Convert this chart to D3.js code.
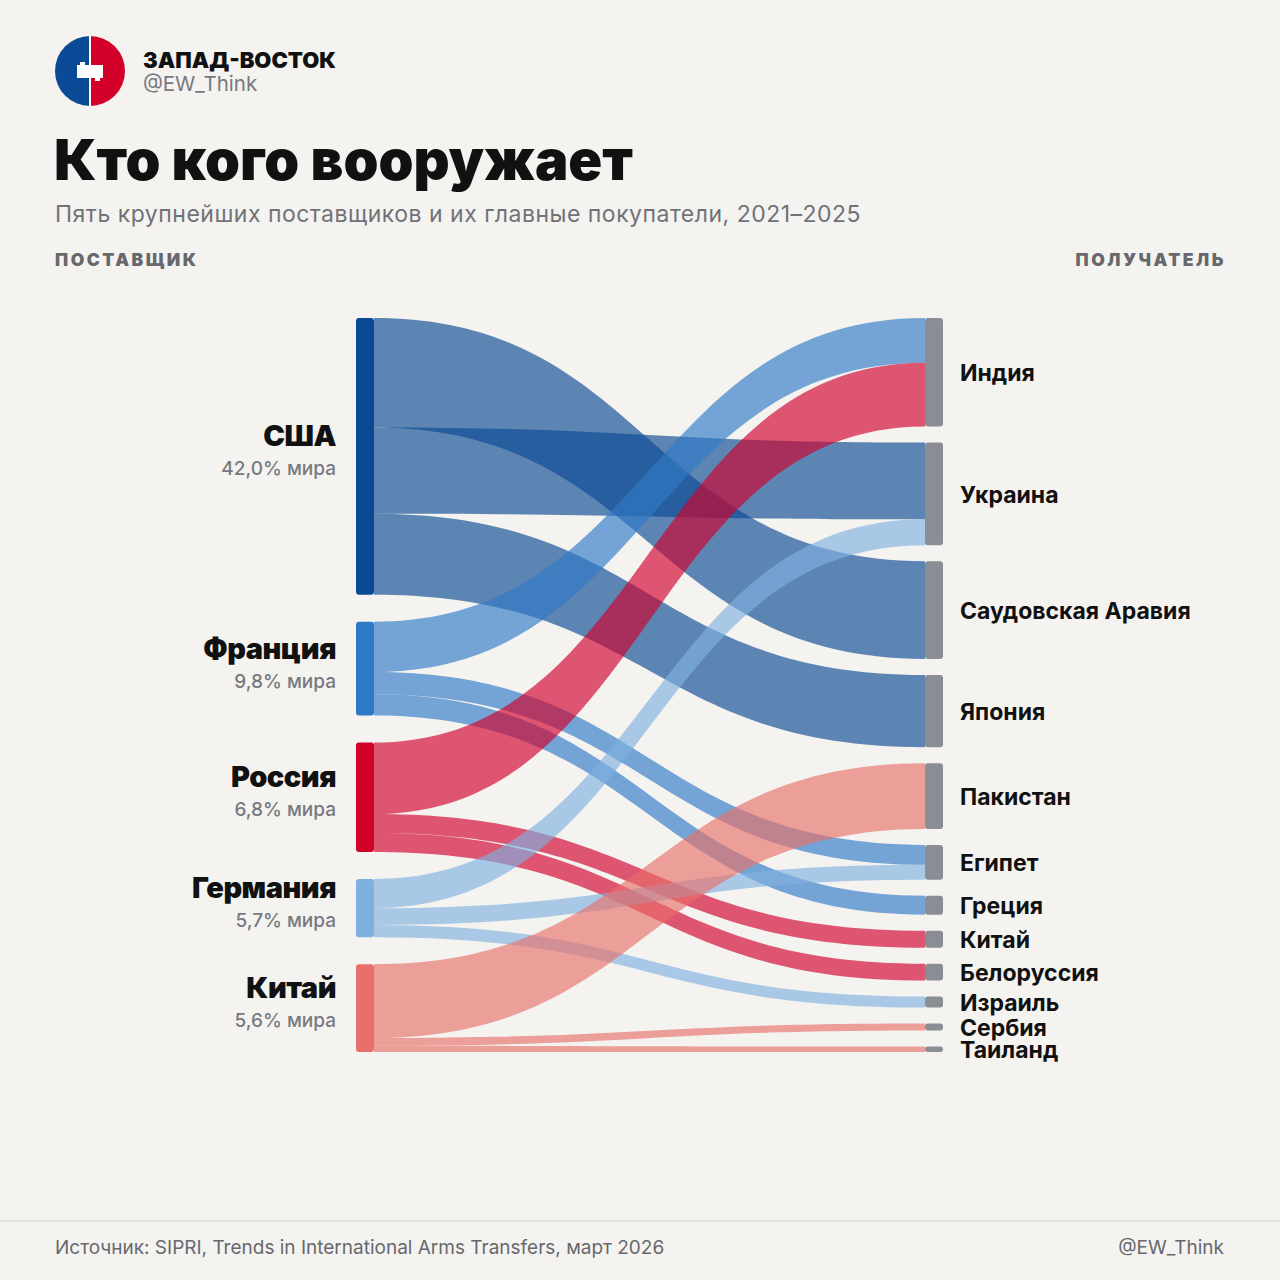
<!DOCTYPE html>
<html>
<head>
<meta charset="utf-8">
<script src="https://cdn.jsdelivr.net/npm/d3@7"></script>
<style>
    body { margin: 0; background: #f4f3f0; }
    svg { display: block; font-family: Inter, "Noto Sans", sans-serif; }
</style>
</head>
<body>
<div id="div_placeholder"></div>
<script>
// data
var suppliers = ["США", "Франция", "Россия", "Германия", "Китай"];
var supplierShare = ["42,0%", "9,8%", "6,8%", "5,7%", "5,6%"];
var recipients = ["Индия", "Украина", "Саудовская Аравия", "Япония", "Пакистан", "Египет",
    "Греция", "Китай", "Белоруссия", "Израиль", "Сербия", "Таиланд"];

// links: supplier index -> recipient index, value
var linkSource = [0, 0, 0, 1, 1, 1, 2, 2, 2, 3, 3, 3, 4, 4, 4];
var linkTarget = [2, 1, 3, 0, 5, 6, 0, 7, 8, 1, 5, 9, 4, 10, 11];
var linkValue = [9.8, 7.7, 7.25, 4.5, 2.0, 1.9, 6.4, 1.7, 1.7, 2.6, 1.5, 1.1, 6.6, 0.7, 0.55];

var supplierColors = ["#0b4994", "#2f7ac6", "#d1002b", "#7fb1e0", "#e8706a"];

//variabelen voor svg
var width = 1280;
var height = 1280;

var top0 = 318;
var bottom0 = 1052;
var gapLeft = 27;
var gapRight = 16;
var nodeW = 18;
var xLeft = 356;
var xRight = 925;

var svg = d3.select("#div_placeholder")
    .append("svg")
    .attr("width", width)
    .attr("height", height);

svg.append("rect")
    .attr("width", width)
    .attr("height", height)
    .attr("fill", "#f4f3f0");

// header
var logo = svg.append("g").attr("transform", "translate(90,71)");
logo.append("path")
    .attr("d", d3.arc()({ innerRadius: 0, outerRadius: 35, startAngle: Math.PI, endAngle: 2 * Math.PI }))
    .attr("fill", "#0b4a97");
logo.append("path")
    .attr("d", d3.arc()({ innerRadius: 0, outerRadius: 35, startAngle: 0, endAngle: Math.PI }))
    .attr("fill", "#d4002a");
logo.append("rect").attr("x", -1).attr("y", -35).attr("width", 2).attr("height", 70).attr("fill", "#ffffff");
logo.append("rect").attr("x", -13).attr("y", -6).attr("width", 26).attr("height", 13).attr("fill", "#ffffff");
logo.append("rect").attr("x", -10).attr("y", -9).attr("width", 5).attr("height", 4).attr("fill", "#ffffff");
logo.append("rect").attr("x", 5).attr("y", 6).attr("width", 5).attr("height", 4).attr("fill", "#ffffff");

svg.append("text")
    .attr("x", 143).attr("y", 68)
    .style("font-size", "22px").style("font-weight", 900)
    .style("fill", "#111111")
    .text("ЗАПАД-ВОСТОК");
svg.append("text")
    .attr("x", 143).attr("y", 91)
    .style("font-size", "20.5px")
    .style("fill", "#77797e")
    .text("@EW_Think");

svg.append("text")
    .attr("x", 54).attr("y", 180)
    .style("font-size", "56px").style("font-weight", 900)
    .style("letter-spacing", "0px")
    .style("fill", "#111111")
    .text("Кто кого вооружает");
svg.append("text")
    .attr("x", 55).attr("y", 222)
    .style("font-size", "23px")
    .style("letter-spacing", "0.5px")
    .style("fill", "#707278")
    .text("Пять крупнейших поставщиков и их главные покупатели, 2021–2025");

svg.append("text")
    .attr("x", 55).attr("y", 266)
    .style("font-size", "17.5px").style("font-weight", 900)
    .style("letter-spacing", "2.5px")
    .style("fill", "#66686d")
    .text("ПОСТАВЩИК");
svg.append("text")
    .attr("x", 1226).attr("y", 266)
    .attr("text-anchor", "end")
    .style("font-size", "17.5px").style("font-weight", 900)
    .style("letter-spacing", "2.5px")
    .style("fill", "#66686d")
    .text("ПОЛУЧАТЕЛЬ");

// node totals
var total = d3.sum(linkValue);
var supTotals = suppliers.map(function (d, i) {
    return d3.sum(linkValue.filter(function (v, j) { return linkSource[j] === i; }));
});
var recTotals = recipients.map(function (d, i) {
    return d3.sum(linkValue.filter(function (v, j) { return linkTarget[j] === i; }));
});

// each column has own scale so both fill the same height
var kyLeft = d3.scaleLinear()
    .domain([0, total])
    .range([0, (bottom0 - top0) - gapLeft * (suppliers.length - 1)]);
var kyRight = d3.scaleLinear()
    .domain([0, total])
    .range([0, (bottom0 - top0) - gapRight * (recipients.length - 1)]);

var supY = [];
var y = top0;
supTotals.forEach(function (v) {
    supY.push(y);
    y += kyLeft(v) + gapLeft;
});
var recY = [];
y = top0;
recTotals.forEach(function (v) {
    recY.push(y);
    y += kyRight(v) + gapRight;
});

// link positions at both ends
var links = linkValue.map(function (v, i) {
    return { source: linkSource[i], target: linkTarget[i], value: v, index: i };
});
var offL = supY.slice();
links.forEach(function (l) {
    l.y0 = offL[l.source];
    offL[l.source] += kyLeft(l.value);
    l.y0b = offL[l.source];
});
var offR = recY.slice();
links.slice().sort(function (a, b) { return a.source - b.source; }).forEach(function (l) {
    l.y1 = offR[l.target];
    offR[l.target] += kyRight(l.value);
    l.y1b = offR[l.target];
});

function ribbon(l) {
    var x0 = xLeft + nodeW;
    var x1 = xRight;
    var xm = (x0 + x1) / 2;
    var p = d3.path();
    p.moveTo(x0, l.y0);
    p.bezierCurveTo(xm, l.y0, xm, l.y1, x1, l.y1);
    p.lineTo(x1, l.y1b);
    p.bezierCurveTo(xm, l.y1b, xm, l.y0b, x0, l.y0b);
    p.closePath();
    return p.toString();
}

var layerLinks = svg.append("g");
layerLinks.selectAll("path")
    .data(links)
    .enter()
    .append("path")
    .attr("d", ribbon)
    .attr("fill", function (d) { return supplierColors[d.source]; })
    .attr("fill-opacity", 0.65);

// supplier nodes + labels
var layerSup = svg.append("g");
suppliers.forEach(function (name, i) {
    var h = kyLeft(supTotals[i]);
    var cy = supY[i] + h / 2;
    layerSup.append("rect")
        .attr("x", xLeft).attr("y", supY[i])
        .attr("width", nodeW).attr("height", h)
        .attr("rx", 3)
        .attr("fill", supplierColors[i]);
    layerSup.append("text")
        .attr("x", 336).attr("y", cy - 10)
        .attr("text-anchor", "end")
        .style("font-size", "29px").style("font-weight", 900)
        .style("letter-spacing", "-0.5px")
        .style("fill", "#111111")
        .text(name);
    layerSup.append("text")
        .attr("x", 336).attr("y", cy + 19)
        .attr("text-anchor", "end")
        .style("font-size", "19px").style("font-weight", 500)
        .style("fill", "#77797f")
        .text(supplierShare[i] + " мира");
});

// recipient nodes + labels
var layerRec = svg.append("g");
recipients.forEach(function (name, i) {
    var h = kyRight(recTotals[i]);
    layerRec.append("rect")
        .attr("x", xRight).attr("y", recY[i])
        .attr("width", nodeW).attr("height", h)
        .attr("rx", Math.min(3, h / 2))
        .attr("fill", "#8a8d93");
    layerRec.append("text")
        .attr("x", 960).attr("y", recY[i] + h / 2 + 1)
        .attr("dominant-baseline", "central")
        .style("font-size", "23px").style("font-weight", 700)
        .style("fill", "#111111")
        .text(name);
});

// footer
svg.append("line")
    .attr("x1", 0).attr("x2", width)
    .attr("y1", 1221).attr("y2", 1221)
    .style("stroke", "#dcdbd7")
    .style("stroke-width", 1.5);
svg.append("text")
    .attr("x", 55).attr("y", 1254)
    .style("font-size", "19px")
    .style("fill", "#66686d")
    .text("Источник: SIPRI, Trends in International Arms Transfers, март 2026");
svg.append("text")
    .attr("x", 1224).attr("y", 1254)
    .attr("text-anchor", "end")
    .style("font-size", "19px")
    .style("fill", "#66686d")
    .text("@EW_Think");
</script>
</body>
</html>
